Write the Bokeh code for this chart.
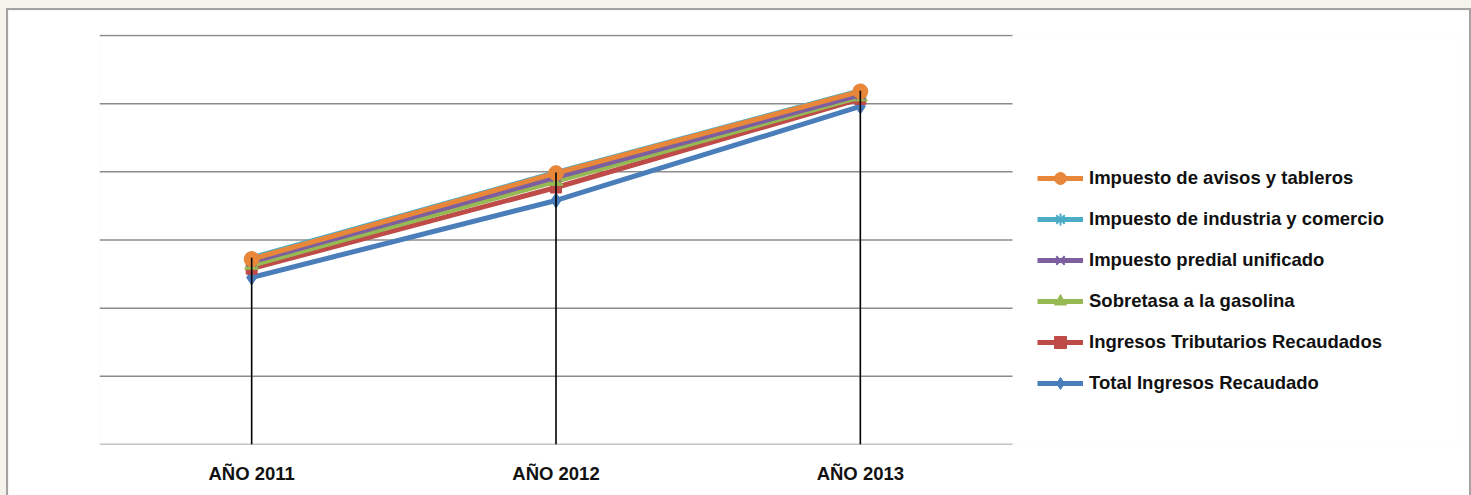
from bokeh.plotting import figure
from bokeh.models import FixedTicker, Legend, LegendItem, Range1d
from bokeh.embed import file_html
from bokeh.resources import INLINE

# ---- data (y axis has no labels, units = gridline steps) ----
years = ["AÑO 2011", "AÑO 2012", "AÑO 2013"]
total_ingresos = [2.45, 3.58, 4.96]
ingresos_tributarios = [2.58, 3.77, 5.07]
sobretasa_gasolina = [2.63, 3.86, 5.10]
predial_unificado = [2.68, 3.92, 5.13]
industria_comercio = [2.74, 3.99, 5.19]
avisos_tableros = [2.72, 3.98, 5.18]
grid_values = [1, 2, 3, 4, 5, 6]

labels = ["Impuesto de avisos y tableros", "Impuesto de industria y comercio",
          "Impuesto predial unificado", "Sobretasa a la gasolina",
          "Ingresos Tributarios Recaudados", "Total Ingresos Recaudado"]
series = [avisos_tableros, industria_comercio, predial_unificado,
          sobretasa_gasolina, ingresos_tributarios, total_ingresos]
colors = ["#E8863A", "#4BACC6", "#7D5FA0", "#97B954", "#BE4B48", "#4A7EBB"]
markers = ["circle", "asterisk", "x", "triangle", "square", "diamond"]
msizes = [15, 13, 13, 14, 11, 15]

# category positions (centre of each category slot)
xs = [i + 0.5 for i in range(len(years))]
n_cat = len(years)

W, H = 1461, 485
BL, BR, BT, BB = 91, 8, 24, 51
frame_w = W - BL - BR
frame_h = H - BT - BB
plot_w = 913          # pixel width occupied by the category slots
plot_h = 409          # pixel height from 0 to the top gridline
x_end = n_cat * frame_w / plot_w
y_end = grid_values[-1] * frame_h / plot_h

p = figure(x_range=Range1d(0, x_end), y_range=Range1d(0, y_end),
           width=W, height=H, output_backend="svg", toolbar_location=None,
           min_border_left=BL, min_border_right=BR,
           min_border_top=BT, min_border_bottom=BB)
p.background_fill_color = "white"
p.border_fill_color = "white"
p.outline_line_color = None
p.styles = {"outline": "2px solid #a3a3a3"}

p.yaxis.visible = False
p.xgrid.grid_line_color = None
p.ygrid.grid_line_color = None

# horizontal gridlines + axis line, limited to the category area
gy = [0] + grid_values
p.segment(x0=[0] * len(gy), y0=gy, x1=[n_cat] * len(gy), y1=gy,
          line_color="#8c8c8c", line_width=1.5)

ax = p.xaxis[0]
ax.ticker = FixedTicker(ticks=xs)
ax.major_label_overrides = {x: y for x, y in zip(xs, years)}
ax.axis_line_color = None
ax.major_tick_line_color = None
ax.minor_tick_line_color = None
ax.major_label_standoff = 12
ax.major_label_text_font = "Liberation Sans"
ax.major_label_text_font_style = "bold"
ax.major_label_text_font_size = "18.5px"
ax.major_label_text_color = "#111111"

items = {}
# draw bottom series first so orange ends on top
for lab, ys, c, m, s in reversed(list(zip(labels, series, colors, markers, msizes))):
    r1 = p.line(xs, ys, line_color=c, line_width=5)
    if m in ("asterisk", "x"):
        r2 = p.scatter(xs, ys, marker=m, size=s, line_color=c, line_width=2)
    else:
        r2 = p.scatter(xs, ys, marker=m, size=s, fill_color=c, line_color=c)
    items[lab] = [r1, r2]

# drop lines from the highest point to the axis
tops = [max(v) for v in zip(*series)]
p.segment(x0=xs, y0=[0] * n_cat, x1=xs, y1=tops,
          line_color="black", line_width=1.6)

legend = Legend(items=[LegendItem(label=l, renderers=items[l]) for l in labels],
                location=(938, 46), orientation="vertical",
                glyph_width=46, glyph_height=30, label_height=30, spacing=11,
                label_standoff=6, padding=0, margin=0,
                border_line_color=None, background_fill_alpha=0,
                label_text_font="Liberation Sans", label_text_font_style="bold",
                label_text_font_size="18.5px", label_text_color="#111111")
p.add_layout(legend, "center")

html = file_html(p, INLINE)
css = ("<style>html,body{background:#f4f4ec !important;}"
       "body{padding:10px 0 0 8px !important;}</style></head>")
html = html.replace("</head>", css, 1)
open("out.html", "w").write(html)
